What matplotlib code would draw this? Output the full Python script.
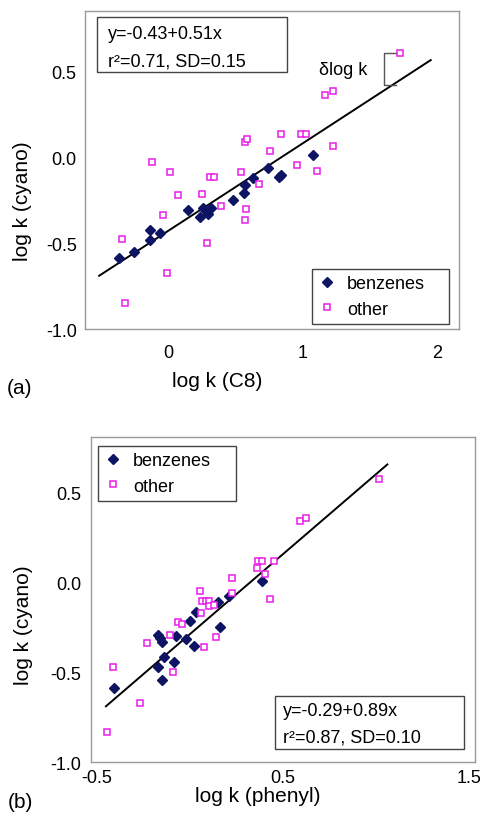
import matplotlib
matplotlib.use("Agg")
import matplotlib.pyplot as plt
from matplotlib.patches import Rectangle
import numpy as np

plt.rcParams['font.family'] = ['Liberation Sans', 'DejaVu Sans']

# panel (a): log k (C8) vs log k (cyano)
benz_a_x = [-0.363, -0.254, -0.136, -0.136, -0.062, 0.148, 0.235, 0.259, 0.301,
            0.321, 0.486, 0.568, 0.573, 0.630, 0.741, 0.822, 0.840, 1.074]
benz_a_y = [-0.588, -0.549, -0.480, -0.422, -0.441, -0.308, -0.349, -0.294, -0.329,
            -0.298, -0.251, -0.210, -0.163, -0.124, -0.065, -0.114, -0.104, 0.014]
other_a_x = [1.721, 1.168, 1.227, -0.341, -0.316, -0.007, -0.119, 0.012, 0.072,
             -0.037, 0.254, 0.291, 0.309, 0.341, 0.395, 0.543, 0.573, 0.585,
             0.580, 0.575, 0.674, 0.758, 0.840, 0.988, 1.025, 0.958, 1.106, 1.227]
other_a_y = [0.608, 0.359, 0.382, -0.476, -0.849, -0.676, -0.031, -0.086, -0.222,
             -0.339, -0.214, -0.500, -0.118, -0.118, -0.284, -0.086, 0.088, 0.106,
             -0.300, -0.365, -0.157, 0.033, 0.137, 0.137, 0.137, -0.047, -0.078, 0.063]
fit_a = (-0.43, 0.51)
fit_a_range = [-0.51, 1.95]

# panel (b): log k (phenyl) vs log k (cyano)
benz_b_x = [-0.407, -0.171, -0.162, -0.148, -0.171, -0.141, -0.150, -0.087, -0.076,
            -0.023, 0.002, 0.025, 0.034, 0.152, 0.160, 0.208, 0.388]
benz_b_y = [-0.591, -0.297, -0.312, -0.331, -0.474, -0.418, -0.545, -0.446, -0.301,
            -0.316, -0.214, -0.353, -0.167, -0.112, -0.251, -0.078, 0.004]
other_b_x = [1.017, 0.592, 0.624, 0.365, 0.387, 0.361, 0.454, 0.401, 0.227, 0.226,
             0.429, 0.056, 0.065, 0.088, 0.104, 0.101, 0.131, 0.061, 0.076, 0.142,
             -0.064, -0.041, -0.105, -0.227, -0.091, -0.269, -0.412, -0.443]
other_b_y = [0.571, 0.338, 0.357, 0.115, 0.115, 0.078, 0.115, 0.046, 0.022, -0.061,
             -0.093, -0.048, -0.108, -0.108, -0.108, -0.134, -0.125, -0.171, -0.362, -0.303,
             -0.223, -0.234, -0.297, -0.340, -0.502, -0.673, -0.470, -0.836]
fit_b = (-0.29, 0.89)
fit_b_range = [-0.45, 1.06]

navy = '#0d1463'
magenta = '#e81ee8'
fs = 13
lfs = 15

fig = plt.figure(figsize=(4.81, 8.29), dpi=100)
ax1 = fig.add_axes([0.1767, 0.6019, 0.7776, 0.3836])
ax2 = fig.add_axes([0.1892, 0.0796, 0.7983, 0.3921])


def draw(ax, bx, by, ox, oy, fit, fr):
    xs = np.array(fr)
    ax.plot(xs, fit[0] + fit[1] * xs, color='black', lw=1.4, zorder=2)
    ax.plot(bx, by, ls='none', marker='D', ms=4.8, color=navy, mec=navy,
            label='benzenes', zorder=3)
    ax.plot(ox, oy, ls='none', marker='s', ms=4.5, mfc='white', mec=magenta,
            mew=1.1, label='other', zorder=3)
    for s in ax.spines.values():
        s.set_color('#9a9a9a')
        s.set_linewidth(1.0)
    ax.tick_params(length=0, labelsize=fs)
    ax.set_ylim(-1.0, 0.85)
    ax.set_yticks([-1.0, -0.5, 0.0, 0.5])
    ax.set_yticklabels(['-1.0', '-0.5', '0.0', '0.5'])


def eqbox(ax, x0, y0, w, h, tx, ty1, ty2, l1, l2):
    ax.add_patch(Rectangle((x0, y0), w, h, transform=ax.transAxes, fill=False,
                           ec='#444444', lw=1.0, zorder=4))
    ax.text(tx, ty1, l1, transform=ax.transAxes, fontsize=fs, va='center', ha='left')
    ax.text(tx, ty2, l2, transform=ax.transAxes, fontsize=fs, va='center', ha='left')


# (a)
draw(ax1, benz_a_x, benz_a_y, other_a_x, other_a_y, fit_a, fit_a_range)
ax1.set_xlim(-0.615, 2.16)
ax1.set_xticks([0, 1, 2])
ax1.tick_params(axis='x', pad=11)
ax1.tick_params(axis='y', pad=6)
ax1.set_xlabel('log k (C8)', fontsize=lfs)
ax1.set_ylabel('log k (cyano)', fontsize=lfs)
ax1.xaxis.set_label_coords(0.353, -0.132)
ax1.yaxis.set_label_coords(-0.142, 0.405)
eqbox(ax1, 0.032, 0.808, 0.508, 0.173, 0.061, 0.928, 0.843,
      'y=-0.43+0.51x', 'r²=0.71, SD=0.15')
ax1.legend(loc='lower left', bbox_to_anchor=(0.607, 0.016, 0.366, 0.176),
           mode='expand', borderaxespad=0, fontsize=fs, fancybox=False,
           edgecolor='#444444', framealpha=1, handlelength=1.0, handletextpad=0.6,
           labelspacing=0.45, borderpad=0.35)
# delta log k bracket
ax1.plot([1.69, 1.605, 1.605, 1.69], [0.608, 0.608, 0.42, 0.42], color='#555555', lw=1.0)
ax1.text(1.124, 0.51, 'δlog k', fontsize=fs, va='center', ha='left')

# (b)
draw(ax2, benz_b_x, benz_b_y, other_b_x, other_b_y, fit_b, fit_b_range)
ax2.set_xlim(-0.53, 1.53)
ax2.set_ylim(-1.0, 0.806)
ax2.set_xticks([-0.5, 0.5, 1.5])
ax2.set_xticklabels(['-0.5', '0.5', '1.5'])
ax2.tick_params(axis='x', pad=5)
ax2.tick_params(axis='y', pad=7)
ax2.set_xlabel('log k (phenyl)', fontsize=lfs)
ax2.set_ylabel('log k (cyano)', fontsize=lfs)
ax2.xaxis.set_label_coords(0.435, -0.074)
ax2.yaxis.set_label_coords(-0.151, 0.425)
eqbox(ax2, 0.479, 0.040, 0.492, 0.163, 0.499, 0.158, 0.076,
      'y=-0.29+0.89x', 'r²=0.87, SD=0.10')
ax2.legend(loc='upper left', bbox_to_anchor=(0.018, 0.803, 0.36, 0.169),
           mode='expand', borderaxespad=0, fontsize=fs, fancybox=False,
           edgecolor='#444444', framealpha=1, handlelength=1.0, handletextpad=0.6,
           labelspacing=0.45, borderpad=0.35)

fig.text(20 / 481, 1 - 389 / 829, '(a)', fontsize=lfs, ha='center', va='center')
fig.text(20 / 481, 1 - 803 / 829, '(b)', fontsize=lfs, ha='center', va='center')

fig.savefig('out.png', dpi=100)
